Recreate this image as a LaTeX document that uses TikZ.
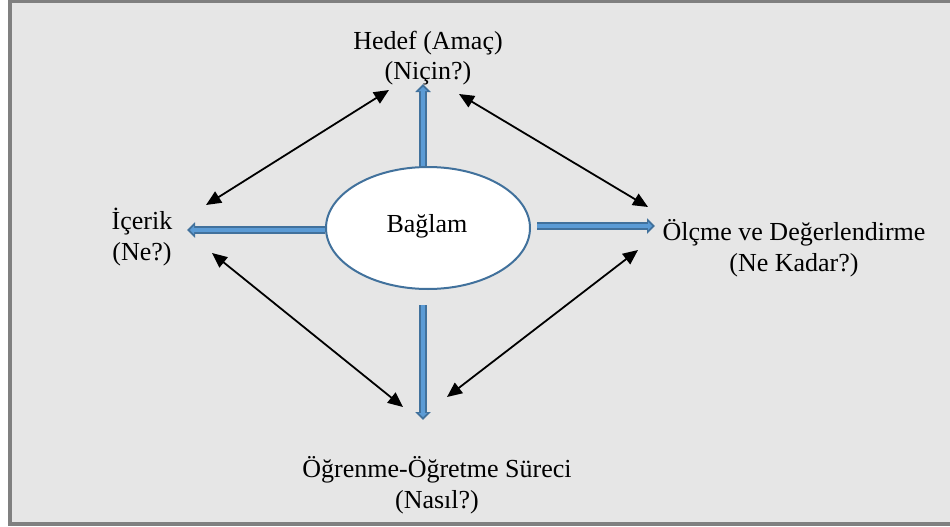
\documentclass[tikz,border=0pt]{standalone}
\usepackage{fontspec}
\setmainfont{Liberation Serif}
\usetikzlibrary{arrows.meta,positioning,shapes.geometric}
\definecolor{frameline}{RGB}{128,128,128}
\definecolor{panel}{RGB}{230,230,230}
\definecolor{bdark}{RGB}{65,113,156}
\definecolor{blight}{RGB}{91,155,213}
\tikzset{
  lbl/.style={font=\fontsize{26}{31}\selectfont,align=center,inner sep=0pt,anchor=base},
  ctx/.style={draw=bdark,line width=2pt,fill=white,ellipse,minimum width=204pt,minimum height=122pt,
    font=\fontsize{26}{31}\selectfont},
  blk/.style={draw=bdark,line width=7.5pt,-{Triangle[length=8pt,width=15pt]},
    postaction={draw=blight,line width=4pt,-{Triangle[length=4pt,width=8pt]},shorten >=3pt}},
  link/.style={draw=black,line width=1.8pt,{Triangle[length=15pt,width=13pt]}-{Triangle[length=15pt,width=13pt]}},
}
\begin{document}
\begin{tikzpicture}[x=1pt,y=-1pt]
  % frame
  \useasboundingbox (0,0) rectangle (950,527);
  \fill[white] (0,0) rectangle (950,527);
  \fill[frameline] (8,0) rectangle (955,526);
  \fill[panel] (12,3) rectangle (955,522);

  % center
  \node[ctx] (ctx) at (428,228) {};
  \node[font=\fontsize{26}{31}\selectfont,inner sep=0pt,anchor=base] (ctxt) at (427,232) {Bağlam};

  % labels (base = last line)
  \node[lbl] (goal) at (428,80) {Hedef (Amaç)\\(Niçin?)};
  \node[lbl] (content) at (142,260) {İçerik\\(Ne?)};
  \node[lbl] (eval) at (794,271) {Ölçme ve Değerlendirme\\(Ne Kadar?)};
  \node[lbl] (proc) at (437,508) {Öğrenme-Öğretme Süreci\\(Nasıl?)};

  % block arrow ends
  \coordinate (gA) at (423,84);
  \coordinate (cA) at (187,230);
  \coordinate (eS) at (537,226);
  \coordinate (eA) at (655,226);
  \coordinate (pS) at (423,305);
  \coordinate (pA) at (423,420);
  \draw[blk] (ctx.north -| gA) -- (gA);
  \draw[blk] (ctx.west |- cA) -- (cA);
  \draw[blk] (eS) -- (eA);
  \draw[blk] (pS) -- (pA);

  % links between labels
  \coordinate (gL) at (389,90);
  \coordinate (gR) at (459,94);
  \coordinate (cT) at (206,205);
  \coordinate (cB) at (212,253);
  \coordinate (eT) at (648,207);
  \coordinate (eB) at (638,250);
  \coordinate (pL) at (403,407);
  \coordinate (pR) at (447,397);
  \draw[link] (cT) -- (gL);
  \draw[link] (gR) -- (eT);
  \draw[link] (cB) -- (pL);
  \draw[link] (pR) -- (eB);
\end{tikzpicture}
\end{document}
